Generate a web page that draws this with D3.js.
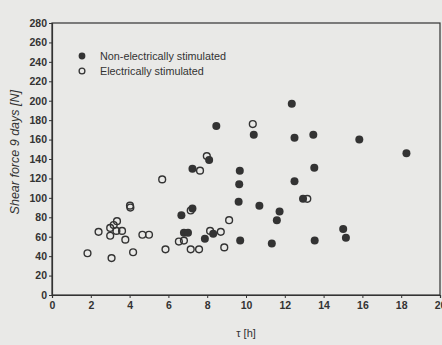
<!DOCTYPE html>
<html>
<head>
<meta charset="utf-8">
<script src="https://cdn.jsdelivr.net/npm/d3@7"></script>
<style>
  body { margin: 0; background: #e9e9e7; }
  svg { display: block; }
  text { font-family: "Liberation Sans", Arial, sans-serif; fill: #333; }
</style>
</head>
<body>
<svg id="chart"></svg>
<script>
// tau [h] and shear force [N]
const nonStimX = [6.67, 6.80, 7.01, 7.24, 7.24, 7.88, 8.10, 8.31, 8.47, 9.62, 9.65, 9.68, 9.70, 10.40, 10.69,
  11.33, 11.59, 11.73, 12.36, 12.50, 12.50, 12.94, 13.47, 13.52, 13.54, 15.01, 15.15, 15.84, 18.27];
const nonStimY = [82, 64, 64, 89, 130, 58, 139, 63, 174, 96, 114, 128, 56, 165, 92,
  53, 77, 86, 197, 162, 117, 99, 165, 131, 56, 68, 59, 160, 146];

const stimX = [1.83, 2.40, 3.00, 3.18, 3.35, 3.32, 3.00, 3.61, 3.78, 3.07, 4.02, 4.04, 4.18, 4.66, 5.00,
  5.68, 5.85, 6.54, 6.80, 7.15, 7.58, 7.15, 7.63, 7.98, 8.15, 8.70, 8.88, 9.13, 10.35, 13.16];
const stimY = [43, 65, 69, 72, 76, 66, 61, 66, 57, 38, 92, 90, 44, 62, 62,
  119, 47, 55, 56, 47, 47, 87, 128, 143, 66, 65, 49, 77, 176, 99];

const xTicks = d3.range(0, 21, 2);
const yTicks = d3.range(0, 281, 20);
const legendLabels = ["Non-electrically stimulated", "Electrically stimulated"];

const width = 442;
const height = 345;
const marginLeft = 52;
const marginRight = 2;
const marginTop = 23;
const marginBottom = 50;
const ink = "#333";

const svg = d3.select("#chart").attr("width", width).attr("height", height);

const x = d3.scaleLinear().domain([0, 20]).range([marginLeft, width - marginRight]);
const y = d3.scaleLinear().domain([0, 280]).range([height - marginBottom, marginTop]);

// frame
svg.append("rect")
  .attr("x", marginLeft)
  .attr("y", marginTop)
  .attr("width", width - marginRight - marginLeft)
  .attr("height", height - marginBottom - marginTop)
  .attr("fill", "none")
  .attr("stroke", ink)
  .attr("stroke-width", 1.2);

const xAxis = svg.append("g")
  .attr("transform", `translate(0, ${height - marginBottom})`)
  .call(d3.axisBottom(x).tickValues(xTicks).tickSize(3).tickPadding(4));

const yAxis = svg.append("g")
  .attr("transform", `translate(${marginLeft}, 0)`)
  .call(d3.axisLeft(y).tickValues(yTicks).tickSize(3).tickPadding(2));

[xAxis, yAxis].forEach((g) => {
  g.select(".domain").attr("stroke", ink).attr("stroke-width", 1.2);
  g.selectAll(".tick line").attr("stroke", ink);
  g.selectAll(".tick text")
    .attr("fill", ink)
    .style("font-size", "10.5px")
    .style("font-weight", "bold")
    .style("font-family", '"Liberation Sans", Arial, sans-serif');
});

svg.append("text")
  .attr("x", x(10))
  .attr("y", 337)
  .attr("text-anchor", "middle")
  .style("font-size", "11px")
  .text("τ [h]");

svg.append("text")
  .attr("transform", `translate(19, ${y(147)}) rotate(-90)`)
  .attr("text-anchor", "middle")
  .style("font-size", "12.5px")
  .style("font-style", "italic")
  .text("Shear force 9 days [N]");

// points
svg.append("g")
  .selectAll("circle")
  .data(stimX.map((d, i) => [d, stimY[i]]))
  .join("circle")
  .attr("cx", (d) => x(d[0]))
  .attr("cy", (d) => y(d[1]))
  .attr("r", 3.4)
  .attr("fill", "none")
  .attr("stroke", ink)
  .attr("stroke-width", 1.4);

svg.append("g")
  .selectAll("circle")
  .data(nonStimX.map((d, i) => [d, nonStimY[i]]))
  .join("circle")
  .attr("cx", (d) => x(d[0]))
  .attr("cy", (d) => y(d[1]))
  .attr("r", 4)
  .attr("fill", ink);

// legend
const legend = svg.append("g");
legendLabels.forEach((label, i) => {
  const ly = 56 + i * 15;
  legend.append("circle")
    .attr("cx", 82)
    .attr("cy", ly)
    .attr("r", i === 0 ? 3.4 : 2.9)
    .attr("fill", i === 0 ? ink : "none")
    .attr("stroke", i === 0 ? "none" : ink)
    .attr("stroke-width", 1.3);
  legend.append("text")
    .attr("x", 100)
    .attr("y", ly)
    .attr("dy", "0.35em")
    .style("font-size", "10.8px")
    .text(label);
});
</script>
</body>
</html>
